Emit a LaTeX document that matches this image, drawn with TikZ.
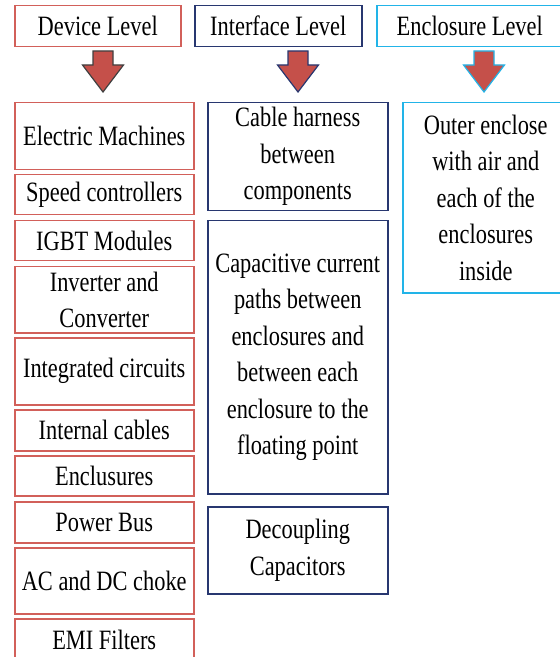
\documentclass[tikz,border=0pt]{standalone}
\usepackage{fontspec}
\setmainfont{Liberation Serif}[FakeStretch=0.8]
\definecolor{devred}{HTML}{D2605A}
\definecolor{arrowred}{HTML}{C5504A}
\definecolor{intnavy}{HTML}{283770}
\definecolor{enccyan}{HTML}{22B4E8}
\begin{document}
\begin{tikzpicture}[x=0.5pt,y=-0.5pt,
    box/.style={draw,line width=0.75pt,anchor=north west,inner sep=0pt,align=center,
        font=\fontsize{14}{18.25}\selectfont},
    devbox/.style={box,draw=devred,minimum width=89.5pt},
    intbox/.style={box,draw=intnavy,minimum width=90pt},
    encbox/.style={box,draw=enccyan,minimum width=83pt}]
    \useasboundingbox (0,0) rectangle (560,657);
    \clip (0,0) rectangle (560,657);
    % headers
    \node[box,draw=devred,minimum width=83pt,minimum height=20.5pt] (devhead) at (14,5) {Device Level};
    \node[box,draw=intnavy,minimum width=83.5pt,minimum height=20.5pt] (inthead) at (194,5) {Interface Level};
    \node[box,draw=enccyan,minimum width=93pt,minimum height=20.5pt] (enchead) at (376,5) {Enclosure Level};
    % block arrows
    \foreach \c/\col in {103/black!75,298/intnavy,484/enccyan}
        \filldraw[fill=arrowred,draw=\col,line width=0.6pt,line join=miter]
        (\c-10,51)--(\c+10,51)--(\c+10,65)--(\c+20.5,65)--(\c,92)--(\c-20.5,65)--(\c-10,65)--cycle;
    % device level
    \node[devbox,minimum height=33.5pt] (machines) at (14,102) {Electric Machines};
    \node[devbox,minimum height=20pt] (speed) at (14,174) {Speed controllers};
    \node[devbox,minimum height=20pt] (igbt) at (14,220) {IGBT Modules};
    \node[devbox,minimum height=33pt] (inverter) at (14,266) {Inverter and\\Converter};
    \node[devbox,minimum height=33.5pt] (ics) at (14,337) {Integrated circuits};
    \node[devbox,minimum height=20.5pt] (cables) at (14,409) {Internal cables};
    \node[devbox,minimum height=20pt] (enclus) at (14,455) {Enclusures};
    \node[devbox,minimum height=20.5pt] (powerbus) at (14,501) {Power Bus};
    \node[devbox,minimum height=33pt] (choke) at (14,547) {AC and DC choke};
    \node[devbox,minimum height=21pt] (emi) at (14,618) {EMI Filters};
    % interface level
    \node[intbox,minimum height=54pt] (harness) at (207,102) {Cable harness\\between\\components};
    \node[intbox,minimum height=136.5pt] (capac) at (207,220)
        {Capacitive current\\paths between\\enclosures and\\between each\\enclosure to the\\floating point};
    \node[intbox,minimum height=43.5pt] (decoup) at (207,506) {Decoupling\\Capacitors};
    % enclosure level
    \node[encbox,minimum height=95pt] (outer) at (402,102)
        {Outer enclose\\with air and\\each of the\\enclosures\\inside};
\end{tikzpicture}
\end{document}
